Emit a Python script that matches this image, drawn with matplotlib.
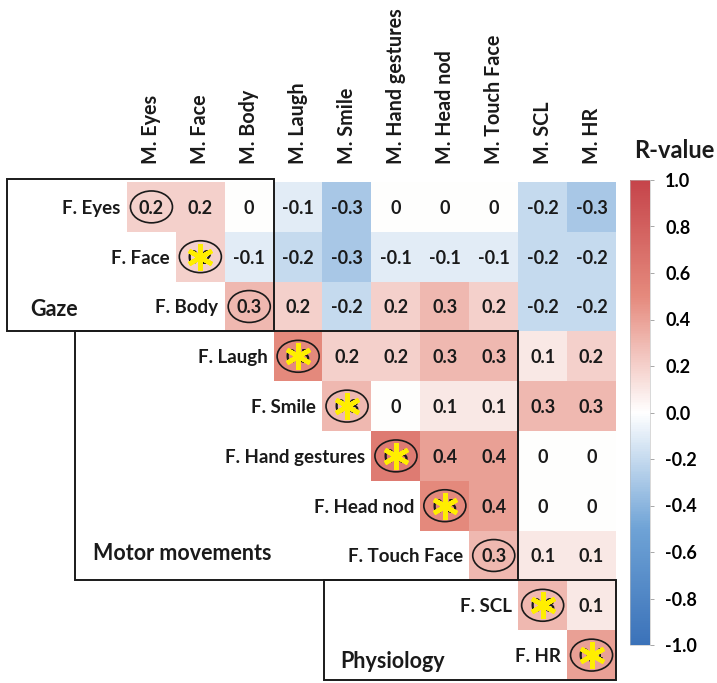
import numpy as np
import matplotlib
matplotlib.use("Agg")
import matplotlib.pyplot as plt
from matplotlib.colors import LinearSegmentedColormap
from matplotlib.patches import Rectangle, Ellipse

plt.rcParams['font.family'] = ['Lato', 'DejaVu Sans']

# Male (columns) and female (rows) behaviour / physiology channels
col_labels = ["M. Eyes", "M. Face", "M. Body", "M. Laugh", "M. Smile",
              "M. Hand gestures", "M. Head nod", "M. Touch Face", "M. SCL", "M. HR"]
row_labels = ["F. Eyes", "F. Face", "F. Body", "F. Laugh", "F. Smile",
              "F. Hand gestures", "F. Head nod", "F. Touch Face", "F. SCL", "F. HR"]

# Upper-triangular R-values, row i starts at column i (diagonal)
r_eyes = [0.2, 0.2, 0.0, -0.1, -0.3, 0.0, 0.0, 0.0, -0.2, -0.3]
r_face = [0.2, -0.1, -0.2, -0.3, -0.1, -0.1, -0.1, -0.2, -0.2]
r_body = [0.3, 0.2, -0.2, 0.2, 0.3, 0.2, -0.2, -0.2]
r_laugh = [0.5, 0.2, 0.2, 0.3, 0.3, 0.1, 0.2]
r_smile = [0.3, 0.0, 0.1, 0.1, 0.3, 0.3]
r_hand = [0.6, 0.4, 0.4, 0.0, 0.0]
r_nod = [0.5, 0.4, 0.0, 0.0]
r_touch = [0.3, 0.1, 0.1]
r_scl = [0.3, 0.1]
r_hr = [0.4]
rows = [r_eyes, r_face, r_body, r_laugh, r_smile, r_hand, r_nod, r_touch, r_scl, r_hr]

# Significant same-channel correlations (diagonal)
significant = [False, True, False, True, True, True, True, False, True, True]

# Channel groups: (name, first index, last index)
groups = [("Gaze", 0, 2), ("Motor movements", 3, 7), ("Physiology", 8, 9)]

cbar_ticks = [-1.0, -0.8, -0.6, -0.4, -0.2, 0.0, 0.2, 0.4, 0.6, 0.8, 1.0]

n = len(col_labels)
mat = np.full((n, n), np.nan)
for i, vals in enumerate(rows):
    mat[i, i:] = vals
masked = np.ma.masked_invalid(mat)

cmap = LinearSegmentedColormap.from_list(
    "rvalue", [(0.0, "#3b72b9"), (0.25, "#6fa3d6"), (0.5, "#ffffff"),
               (0.75, "#e58a7d"), (1.0, "#c5444a")])

W, H = 717, 683
fig = plt.figure(figsize=(W / 100, H / 100), dpi=100)

x0, x1, y0, y1 = 127, 616, 182, 680
ax = fig.add_axes([x0 / W, 1 - y1 / H, (x1 - x0) / W, (y1 - y0) / H])
im = ax.imshow(masked, cmap=cmap, vmin=-1, vmax=1, aspect="auto",
               interpolation="nearest")
ax.set_xlim(-0.5, n - 0.5)
ax.set_ylim(n - 0.5, -0.5)
ax.axis("off")

cw = (x1 - x0) / n
ch = (y1 - y0) / n

def px_to_x(px):
    return (px - x0) / cw - 0.5

def px_to_y(py):
    return (py - y0) / ch - 0.5

def fmt(v):
    return "0" if abs(v) < 1e-9 else f"{v:.1f}"

# cell values
for i in range(n):
    for j in range(i, n):
        ax.text(j, i + 0.03, fmt(mat[i, j]), ha="center", va="center",
                fontsize=13, fontweight="bold", color="#1a1a1a")

# diagonal markers
for i in range(n):
    ax.add_patch(Ellipse((i, i), 0.86, 0.64, fill=False, edgecolor="#1a1a1a",
                         lw=1.2, zorder=4))
    if significant[i]:
        ax.plot(i, i, marker=(6, 2, 0), markersize=19, markeredgewidth=3.3,
                color="#ffee00", markeredgecolor="#ffee00", zorder=5)

# row labels, just left of the diagonal
for i, lab in enumerate(row_labels):
    ax.text(i - 0.63, i + 0.03, lab, ha="right", va="center", fontsize=13.5,
            fontweight="bold", color="#1a1a1a", clip_on=False)

# column labels
for j, lab in enumerate(col_labels):
    ax.text(j, px_to_y(164), lab, ha="center", va="bottom", rotation=90,
            fontsize=14.2, fontweight="bold", color="#1a1a1a", clip_on=False)

# group boxes
box_left = {"Gaze": px_to_x(7), "Motor movements": px_to_x(75),
            "Physiology": px_to_x(324)}
label_pos = {"Gaze": (px_to_x(30), px_to_y(310)),
             "Motor movements": (px_to_x(93), px_to_y(553)),
             "Physiology": (px_to_x(340), px_to_y(662))}
for name, a, b in groups:
    left = box_left[name]
    top = px_to_y(179) if a == 0 else a - 0.5
    ax.add_patch(Rectangle((left, top), b + 0.5 - left, b + 0.5 - top,
                           fill=False, edgecolor="#1a1a1a", lw=1.4,
                           clip_on=False, zorder=6))
    lx, ly = label_pos[name]
    ax.text(lx, ly, name, ha="left", va="center", fontsize=15.5,
            fontweight="bold", color="#1a1a1a", clip_on=False)

# colour bar
cax = fig.add_axes([630 / W, 1 - 645 / H, 20 / W, (645 - 180) / H])
cb = fig.colorbar(im, cax=cax, ticks=cbar_ticks)
cb.outline.set_linewidth(0.4)
cb.outline.set_edgecolor("#bbbbbb")
cax.tick_params(length=3, width=0.6, color="#999999", pad=8, labelsize=13)
cax.set_yticklabels([f"{abs(t):.1f}" if abs(t) < 1e-9 else f"{t:.1f}"
                     for t in cbar_ticks], fontweight="bold")
fig.text(674 / W, 1 - 150 / H, "R-value", ha="center", va="center",
         fontsize=17, fontweight="bold", color="#1a1a1a")

fig.savefig("out.png", dpi=100)
